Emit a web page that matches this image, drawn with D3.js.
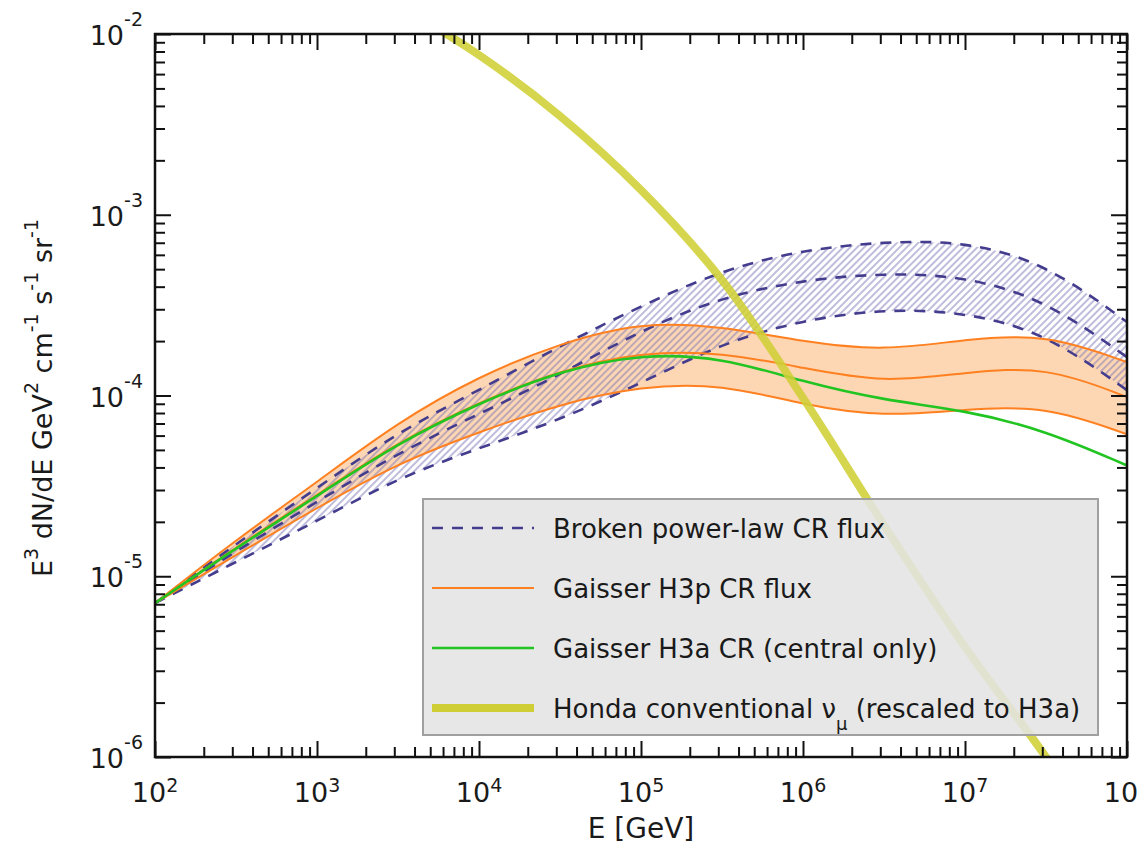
<!DOCTYPE html>
<html>
<head>
<meta charset="utf-8">
<script src="https://cdn.jsdelivr.net/npm/d3@7"></script>
<style>
  body { margin: 0; background: #fff; }
  text { font-family: "DejaVu Sans", sans-serif; fill: #1a1a1a; }
</style>
</head>
<body>
<div id="svg-holder"></div>
<script>
// energy grid (GeV) shared by the CR flux curves
const energy = [1e2, 3.16e2, 1e3, 3.16e3, 1e4, 3.16e4, 1e5, 3.16e5, 1e6, 3.16e6, 1e7, 3.16e7, 1e8]

// broken power-law CR flux: band edges + central
const brokenUpper   = [7.1e-6, 1.51e-5, 3.08e-5, 6.28e-5, 1.07e-4, 1.88e-4, 3.13e-4, 4.95e-4, 6.4e-4, 7.1e-4, 7.15e-4, 5.4e-4, 2.55e-4]
const brokenCentral = [7.1e-6, 1.38e-5, 2.58e-5, 4.81e-5, 7.9e-5, 1.30e-4, 2.30e-4, 3.51e-4, 4.36e-4, 4.76e-4, 4.58e-4, 3.38e-4, 1.63e-4]
const brokenLower   = [7.1e-6, 1.20e-5, 2.02e-5, 3.50e-5, 5.12e-5, 7.32e-5, 1.17e-4, 1.95e-4, 2.62e-4, 3.01e-4, 2.9e-4, 2.22e-4, 1.07e-4]

// Gaisser H3p
const h3pUpper   = [7.1e-6, 1.59e-5, 3.32e-5, 7.13e-5, 1.28e-4, 1.95e-4, 2.55e-4, 2.42e-4, 1.98e-4, 1.76e-4, 2.05e-4, 2.2e-4, 1.53e-4]
const h3pCentral = [7.1e-6, 1.45e-5, 2.82e-5, 5.53e-5, 9.2e-5, 1.38e-4, 1.74e-4, 1.74e-4, 1.42e-4, 1.17e-4, 1.34e-4, 1.46e-4, 9.8e-5]
const h3pLower   = [7.1e-6, 1.31e-5, 2.39e-5, 4.23e-5, 6.28e-5, 8.97e-5, 1.13e-4, 1.16e-4, 8.86e-5, 7.6e-5, 8.4e-5, 8.8e-5, 6.1e-5]

// Gaisser H3a central only
const h3aCentral = [7.1e-6, 1.43e-5, 2.78e-5, 5.46e-5, 9.1e-5, 1.37e-4, 1.70e-4, 1.63e-4, 1.19e-4, 9.4e-5, 8.3e-5, 6.4e-5, 4.1e-5]

// Honda conventional numu (rescaled)
const hondaEnergy = [3.16e3, 1e4, 3.16e4, 1e5, 3.16e5, 1e6, 3.16e6, 1e7, 3.16e7, 1e8]
const honda       = [1.45e-2, 7.65e-3, 3.52e-3, 1.37e-3, 4.36e-4, 9.7e-5, 1.92e-5, 4.06e-6, 1.0e-6, 2.1e-7]

const xMajor = [1e2, 1e3, 1e4, 1e5, 1e6, 1e7, 1e8]
const xExp = [2, 3, 4, 5, 6, 7, 8]
const yMajor = [1e-6, 1e-5, 1e-4, 1e-3, 1e-2]
const yExp = [-6, -5, -4, -3, -2]

const legendItems = ["Broken power-law CR flux", "Gaisser H3p CR flux", "Gaisser H3a CR (central only)", "Honda conventional"]

const width = 1139, height = 846
const pL = 155, pR = 1127, pT = 34, pB = 757

let svg = d3.select("#svg-holder").append("svg")
    .attr("width", width)
    .attr("height", height)

let x = d3.scaleLog().domain([1e2, 1e8]).range([pL, pR])
let y = d3.scaleLog().domain([1e-6, 1e-2]).range([pB, pT])

let defs = svg.append("defs")
defs.append("clipPath").attr("id", "plot-clip")
    .append("rect")
    .attr("x", pL).attr("y", pT)
    .attr("width", pR - pL).attr("height", pB - pT)

let hatch = defs.append("pattern")
    .attr("id", "hatch")
    .attr("patternUnits", "userSpaceOnUse")
    .attr("width", 5).attr("height", 5)
    .attr("patternTransform", "rotate(45)")
hatch.append("line")
    .attr("x1", 1).attr("x2", 1).attr("y1", 0).attr("y2", 5)
    .attr("stroke", "#7d78b8")
    .attr("stroke-opacity", 0.7)
    .attr("stroke-width", 1.4)

// B-spline keeps the band edges smooth between read-off points
let curve = d3.curveBasis
let zip = (a, b) => energy.map((e, i) => ({e: e, lo: a[i], hi: b ? b[i] : a[i]}))

let band = d3.area()
    .x(d => x(d.e)).y0(d => y(d.lo)).y1(d => y(d.hi))
    .curve(curve)
let line = d3.line()
    .x(d => x(d.e)).y(d => y(d.hi))
    .curve(curve)

let plot = svg.append("g").attr("clip-path", "url(#plot-clip)")

// H3p band fill
plot.append("path")
    .attr("d", band(zip(h3pLower, h3pUpper)))
    .attr("fill", "#fdd6b3")

// broken power-law hatched band
plot.append("path")
    .attr("d", band(zip(brokenLower, brokenUpper)))
    .attr("fill", "url(#hatch)")

// dashed broken power-law lines
;[brokenUpper, brokenCentral, brokenLower].forEach(s => {
    plot.append("path")
        .attr("d", line(zip(s)))
        .attr("fill", "none")
        .attr("stroke", "#443d8e")
        .attr("stroke-width", 2.6)
        .attr("stroke-dasharray", "11,9")
})

// H3p lines
;[h3pUpper, h3pCentral, h3pLower].forEach(s => {
    plot.append("path")
        .attr("d", line(zip(s)))
        .attr("fill", "none")
        .attr("stroke", "#ff8020")
        .attr("stroke-width", 2)
})

// H3a central
plot.append("path")
    .attr("d", line(zip(h3aCentral)))
    .attr("fill", "none")
    .attr("stroke", "#22c422")
    .attr("stroke-width", 2.6)

// Honda
plot.append("path")
    .attr("d", d3.line().x((d, i) => x(hondaEnergy[i])).y(d => y(d)).curve(d3.curveCatmullRom.alpha(0.5))(honda))
    .attr("fill", "none")
    .attr("stroke", "#cfcf35")
    .attr("stroke-opacity", 0.88)
    .attr("stroke-width", 8)

// ticks, inside on all sides
let minorX = x.ticks().filter(v => !xMajor.some(m => Math.abs(m - v) / v < 1e-6))
let minorY = y.ticks().filter(v => !yMajor.some(m => Math.abs(m - v) / v < 1e-6))

function tickAxis(gen, scale, vals, size, tr) {
    svg.append("g")
        .attr("transform", tr)
        .call(gen(scale).tickValues(vals).tickSize(size).tickSizeOuter(0).tickFormat(""))
        .call(g => g.select(".domain").remove())
        .call(g => g.selectAll("line").attr("stroke", "#111").attr("stroke-width", 2))
}
tickAxis(d3.axisBottom, x, xMajor, -16, `translate(0,${pB})`)
tickAxis(d3.axisBottom, x, minorX, -10, `translate(0,${pB})`)
tickAxis(d3.axisTop, x, xMajor, -16, `translate(0,${pT})`)
tickAxis(d3.axisTop, x, minorX, -10, `translate(0,${pT})`)
tickAxis(d3.axisLeft, y, yMajor, -16, `translate(${pL},0)`)
tickAxis(d3.axisLeft, y, minorY, -10, `translate(${pL},0)`)
tickAxis(d3.axisRight, y, yMajor, -16, `translate(${pR},0)`)
tickAxis(d3.axisRight, y, minorY, -10, `translate(${pR},0)`)

// frame
svg.append("rect")
    .attr("x", pL).attr("y", pT)
    .attr("width", pR - pL).attr("height", pB - pT)
    .attr("fill", "none")
    .attr("stroke", "#111")
    .attr("stroke-width", 2.5)

// tick labels
xMajor.forEach((v, i) => {
    let t = svg.append("text")
        .attr("x", x(v)).attr("y", 802)
        .attr("text-anchor", "middle")
        .style("font-size", "27px")
    t.append("tspan").text("10")
    t.append("tspan").attr("dy", -10).style("font-size", "19px").text(xExp[i])
})
yMajor.forEach((v, i) => {
    let t = svg.append("text")
        .attr("x", 143).attr("y", y(v) + 11)
        .attr("text-anchor", "end")
        .style("font-size", "27px")
    t.append("tspan").text("10")
    t.append("tspan").attr("dy", -19).style("font-size", "19px").text(yExp[i])
})

// axis titles
svg.append("text")
    .attr("x", x(1e5)).attr("y", 838)
    .attr("text-anchor", "middle")
    .style("font-size", "28px")
    .text("E [GeV]")

let yt = svg.append("text")
    .attr("transform", "translate(52,398) rotate(-90)")
    .attr("text-anchor", "middle")
    .style("font-size", "27px")
let parts = [["E", "3"], [" dN/dE GeV", "2"], [" cm", "-1"], [" s", "-1"], [" sr", "-1"]]
parts.forEach((p, i) => {
    yt.append("tspan").attr("dy", i === 0 ? 0 : 14).text(p[0])
    yt.append("tspan").attr("dy", -14).style("font-size", "19px").text(p[1])
})

// legend
let lg = svg.append("g")
lg.append("rect")
    .attr("x", 423).attr("y", 499)
    .attr("width", 675).attr("height", 236)
    .attr("fill", "#e4e4e4")
    .attr("fill-opacity", 0.88)
    .attr("stroke", "#a0a0a0")
    .attr("stroke-width", 2)

let rowY = [528, 588, 648, 708]
let legendStyle = [
    {stroke: "#443d8e", w: 2.6, dash: "11,9"},
    {stroke: "#ff8020", w: 2, dash: null},
    {stroke: "#22c422", w: 2.6, dash: null},
    {stroke: "#cfcf35", w: 8, dash: null}
]
legendItems.forEach((name, i) => {
    lg.append("line")
        .attr("x1", 432).attr("x2", 534)
        .attr("y1", rowY[i]).attr("y2", rowY[i])
        .attr("stroke", legendStyle[i].stroke)
        .attr("stroke-width", legendStyle[i].w)
        .attr("stroke-dasharray", legendStyle[i].dash)
    let t = lg.append("text")
        .attr("x", 553).attr("y", rowY[i] + 10)
        .style("font-size", "26px")
        .text(name)
    if (i === 3) {
        t.append("tspan").text(" \u03bd")
        t.append("tspan").attr("dy", 12).style("font-size", "18px").text("\u03bc")
        t.append("tspan").attr("dy", -12).text(" (rescaled to H3a)")
    }
})
</script>
</body>
</html>
